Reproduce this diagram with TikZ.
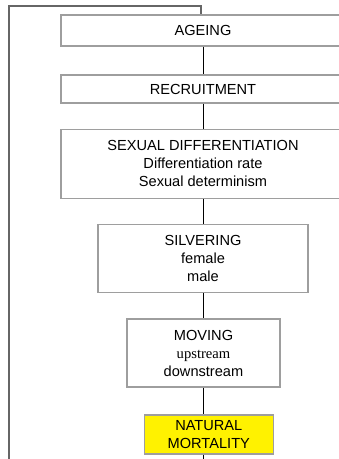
\documentclass[tikz,border=0pt]{standalone}
\usepackage{fontspec}
\setmainfont{Liberation Sans}
\newfontfamily\serifface{Liberation Serif}
\begin{document}
\begin{tikzpicture}[x=1pt,y=-1pt,
  stagebox/.style={draw=black!38,line width=1.2pt,fill=white,align=center,
    inner sep=0pt,font=\fontsize{14.6}{18}\selectfont},
  link/.style={draw=black,line width=0.9pt},
  feedback/.style={draw=black!60,line width=1.5pt}]
\useasboundingbox (0,0) rectangle (339,459);
\clip (0,0) rectangle (339,459);
\node[stagebox,minimum width=284pt,minimum height=31pt] (ageing) at (203,30.5) {AGEING};
\node[stagebox,minimum width=284pt,minimum height=28pt] (recruit) at (203,89) {RECRUITMENT};
\node[stagebox,minimum width=284pt,minimum height=69pt] (sexdiff) at (203,163.8)
  {SEXUAL DIFFERENTIATION\\Differentiation rate\\Sexual determinism};
\node[stagebox,minimum width=210pt,minimum height=67.6pt] (silver) at (203,258.5)
  {SILVERING\\female\\male};
\node[stagebox,minimum width=153pt,minimum height=68pt] (moving) at (203.5,353)
  {MOVING\\{\serifface upstream}\\downstream};
\node[stagebox,fill=yellow,minimum width=129pt,minimum height=39pt] (mort) at (208.8,434.5)
  {NATURAL\\MORTALITY};
\coordinate (bottom) at (203,461);
\coordinate (fbbottom) at (9,461);
\coordinate (fbtop) at (201,6);
\draw[link] (ageing.south) -- (recruit.north);
\draw[link] (recruit.south) -- (sexdiff.north);
\draw[link] (sexdiff.south) -- (silver.north);
\draw[link] (silver.south) -- (silver.south |- moving.north);
\draw[link] (silver.south |- moving.south) -- (silver.south |- mort.north);
\draw[link] (silver.south |- mort.south) -- (bottom);
\draw[feedback] (fbbottom) |- (fbtop) -- (fbtop |- ageing.north);
\end{tikzpicture}
\end{document}
